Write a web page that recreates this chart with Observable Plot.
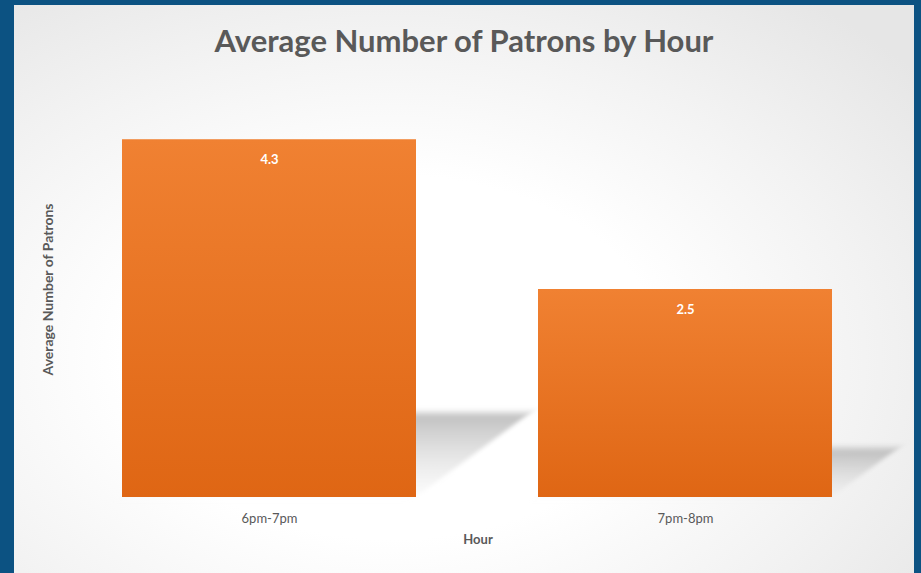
<!DOCTYPE html>
<html><head><meta charset="utf-8">
<script src="https://cdn.jsdelivr.net/npm/d3@7"></script>
<script src="https://cdn.jsdelivr.net/npm/@observablehq/plot@0.6"></script>
<style>
html,body{margin:0;padding:0;background:#0c5282;width:921px;height:573px;overflow:hidden}
#panel{position:absolute;left:14px;top:5px;width:900px;height:568px;
  background:radial-gradient(ellipse 75% 80% at 42% 62%, #ffffff 40%, #f3f3f3 70%, #e6e6e6 100%);}
#title{height:65px;line-height:70px;text-align:center;font-family:Lato,"Open Sans",sans-serif;font-weight:700;font-size:31px;color:#595959;white-space:nowrap}
#chart svg{display:block}
</style></head><body>
<div id="panel"><div id="title"></div><div id="chart"></div></div>
<script>
const hours = ["6pm-7pm", "7pm-8pm"];
const patrons = [4.3, 2.5];
const titleText = "Average Number of Patrons by Hour";
const yLabel = "Average Number of Patrons";
const xLabel = "Hour";
const yMax = 5;
const shadowRatio = 0.235;

const data = hours.map((h, i) => ({hour: h, value: patrons[i]}));
document.getElementById("title").textContent = titleText;

const W = 900, H = 503, MB = 76;
const plot = Plot.plot({
  width: W, height: H,
  marginTop: 11, marginBottom: MB, marginLeft: 45.6, marginRight: 18.6,
  style: {background: "transparent", fontFamily: "Lato, 'Open Sans', sans-serif", fontSize: "13px", color: "#595959"},
  x: {domain: hours, paddingInner: 0.293, paddingOuter: 0.15, label: null, tickSize: 0, tickPadding: 16},
  y: {domain: [0, yMax], axis: null},
  marks: [
    Plot.barY(data, {x: "hour", y: d => d.value * shadowRatio, fill: "url(#shadowGrad)"}),
    Plot.barY(data, {x: "hour", y: "value", fill: "url(#barGrad)"}),
    Plot.text(data, {x: "hour", y: "value", text: d => d.value.toFixed(1), dy: 20, fill: "white", fontWeight: "bold", fontSize: 13}),
    Plot.text([yLabel], {frameAnchor: "left", textAnchor: "middle", rotate: -90, dx: -11.6, fill: "#595959", fontWeight: "bold", fontSize: 14}),
    Plot.text([xLabel], {frameAnchor: "bottom", dy: 46, fill: "#595959", fontWeight: "bold", fontSize: 13})
  ]
});
const svg = plot.tagName.toLowerCase() === "svg" ? plot : plot.querySelector("svg");
const defs = d3.select(svg).insert("defs", ":first-child");
const bg = defs.append("linearGradient").attr("id", "barGrad").attr("x1", 0).attr("y1", 0).attr("x2", 0).attr("y2", 1);
bg.append("stop").attr("offset", "0%").attr("stop-color", "#f08132");
bg.append("stop").attr("offset", "100%").attr("stop-color", "#df6614");
const sg = defs.append("linearGradient").attr("id", "shadowGrad").attr("x1", 0).attr("y1", 0).attr("x2", 0).attr("y2", 1);
sg.append("stop").attr("offset", "0%").attr("stop-color", "#a8a8a8").attr("stop-opacity", 0.75);
sg.append("stop").attr("offset", "100%").attr("stop-color", "#d8d8d8").attr("stop-opacity", 0.1);
const flt = defs.append("filter").attr("id", "blurS").attr("filterUnits", "userSpaceOnUse")
  .attr("x", 0).attr("y", 0).attr("width", W).attr("height", H);
flt.append("feGaussianBlur").attr("stdDeviation", 3.5);
let y0 = H - MB;
try { y0 = plot.scale("y").apply(0); } catch (e) {}
d3.select(svg).select('g[aria-label="bar"]')
  .attr("transform", `translate(0,${y0}) skewX(-53.6) translate(0,${-y0})`)
  .attr("filter", "url(#blurS)");
d3.select(svg).selectAll('g[aria-label="x-axis"] text, g[aria-label="x-axis tick label"] text').attr("fill", "#595959");
document.getElementById("chart").appendChild(plot);
</script>
</body></html>
